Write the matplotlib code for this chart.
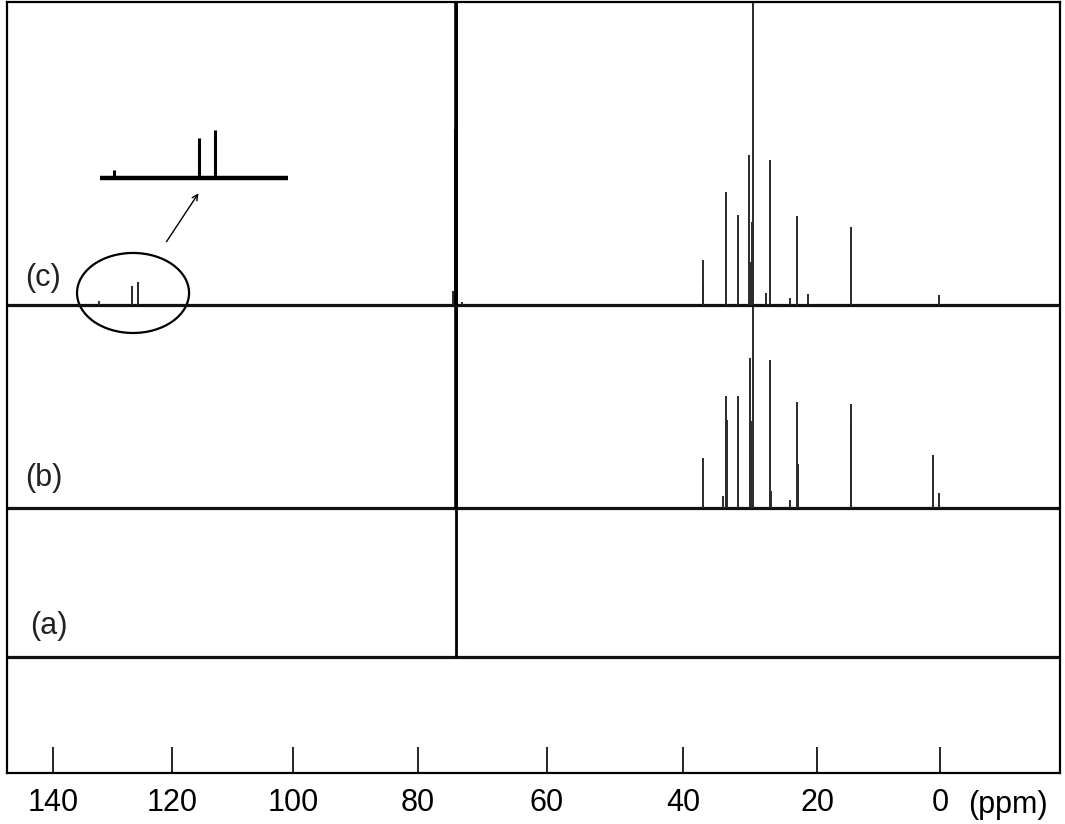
import numpy as np
import matplotlib
matplotlib.use("Agg")
import matplotlib.pyplot as plt
from matplotlib.patches import Ellipse

plt.rcParams['font.family'] = ['Liberation Sans', 'DejaVu Sans']

# axis labels (ppm)
tick_ppm = [140, 120, 100, 80, 60, 40, 20, 0]

# peak lists: shift (ppm) and height (arb. units)
a_ppm = [74.1]
a_int = [700]

b_ppm = [74.1, 37.06, 34.0, 33.6, 33.5, 31.8, 30.0, 29.95, 29.9, 29.6,
         27.0, 26.8, 24.0, 23.0, 22.9, 14.5, 14.4, 1.2, 0.2]
b_int = [600, 50, 12, 112, 88, 112, 150, 57, 87, 600,
         148, 17, 8, 106, 44, 104, 90, 53, 15]

c_ppm = [132.2, 126.7, 125.7, 74.5, 74.1, 73.2, 37.06, 37.0, 33.6, 31.8,
         30.1, 29.8, 29.7, 27.6, 27.0, 24.0, 23.0, 21.4, 14.5, 0.2]
c_int = [4, 19, 23, 14, 176, 3, 45, 22, 113, 90,
         150, 43, 83, 12, 145, 7, 89, 11, 78, 10]

labels = ['(a)', '(b)', '(c)']

# the printed ppm axis is not quite uniform, so calibrate it from the tick marks
cal_ppm = np.array([-200, -19.5, 0, 20, 40, 60, 80, 100, 120, 140, 147.7, 400])
cal_pos = np.array([2170, 1060, 940, 817, 683, 547, 418, 293, 172, 53, 7, -1494])

def fwd(x):
    return np.interp(x, cal_ppm, -cal_pos)

def inv(t):
    return np.interp(t, -cal_pos, cal_ppm)

fig = plt.figure(figsize=(10.65, 8.24), dpi=100)
ax = fig.add_axes([7/1065, 51/824, 1053/1065, 771/824])
ax.set_xscale('function', functions=(fwd, inv))
ax.set_xlim(147.7, -19.5)
ax.set_ylim(0, 771)

offsets = [116, 265, 468]
traces = [(a_ppm, a_int), (b_ppm, b_int), (c_ppm, c_int)]
main_lw = [2.0, 2.6, 2.8]
for (ppm, inten), off, mlw in zip(traces, offsets, main_lw):
    ppm = np.array(ppm)
    inten = np.array(inten)
    ax.hlines(off, 147.7, -19.5, color='#111111', lw=2.3)
    big = ppm == 74.1
    ax.vlines(ppm[~big], off, off + inten[~big], color='#2a2a2a', lw=1.4)
    ax.vlines(ppm[big], off, off + inten[big], color='black', lw=mlw)

# trace labels
lab_pos = [(0.040, 0.191), (0.035, 0.383), (0.034, 0.642)]
for lab, (lx, ly) in zip(labels, lab_pos):
    ax.text(lx, ly, lab, transform=ax.transAxes, fontsize=22,
            ha='center', va='center', color='#222222')

# aromatic region expanded
ins = ax.inset_axes([0.0883, 0.756, 0.1786, 0.091])
ins.set_xlim(133.1, 121.0)
ins.set_ylim(-5.7, 27.6)
ins.axis('off')
ins.hlines(0, 133.1, 121.0, color='black', lw=3.2)
sel = [(p, h) for p, h in zip(c_ppm, c_int) if 121.0 < p < 133.1]
ins.vlines([p for p, h in sel], 0, [h for p, h in sel], color='black', lw=2.2)

ax.add_patch(Ellipse((0.1197, 0.6226), 0.1064, 0.1038, transform=ax.transAxes,
                     fill=False, ec='black', lw=1.6))
ax.annotate('', xy=(0.1833, 0.7549), xytext=(0.1500, 0.6861),
            xycoords='axes fraction', textcoords='axes fraction',
            arrowprops=dict(arrowstyle='->', lw=1.0, color='black'))

ax.set_xticks(tick_ppm)
ax.set_xticklabels([str(t) for t in tick_ppm])
ax.xaxis.set_minor_locator(matplotlib.ticker.NullLocator())
ax.tick_params(axis='x', direction='in', length=18.5, width=1.2, pad=11,
               labelsize=22, top=False)
ax.set_yticks([])
for s in ax.spines.values():
    s.set_linewidth(1.6)

ax.text(0.9506, -0.0415, '(ppm)', transform=ax.transAxes, fontsize=22,
        ha='center', va='center')

fig.savefig('out.png', dpi=100)
